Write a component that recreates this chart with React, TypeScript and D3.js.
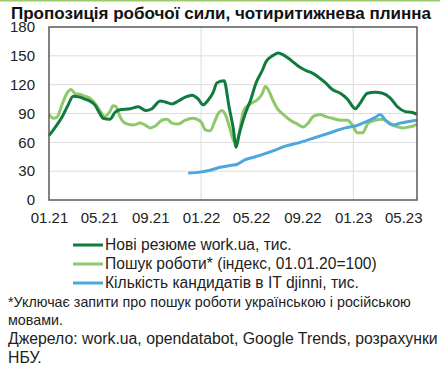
import React, { useEffect, useRef } from "react";
import * as d3 from "d3";

// Нові резюме work.ua, тис.
const resumeDates = [
  "2021-01-01", "2021-01-15", "2021-02-01", "2021-02-16", "2021-02-28", "2021-03-16",
  "2021-03-28", "2021-04-09", "2021-04-21", "2021-05-03", "2021-05-11", "2021-05-27",
  "2021-06-08", "2021-06-20", "2021-07-15", "2021-08-03", "2021-08-22", "2021-09-05",
  "2021-09-25", "2021-10-07", "2021-10-23", "2021-11-07", "2021-11-24", "2021-12-10",
  "2021-12-25", "2022-01-06", "2022-01-18", "2022-01-30", "2022-02-08", "2022-02-25",
  "2022-03-09", "2022-03-19", "2022-03-26", "2022-04-02", "2022-04-17", "2022-04-29",
  "2022-05-13", "2022-05-28", "2022-06-06", "2022-06-21", "2022-07-05", "2022-07-17",
  "2022-08-03", "2022-08-20", "2022-09-08", "2022-09-25", "2022-10-09", "2022-10-26",
  "2022-11-12", "2022-12-01", "2022-12-18", "2023-01-06", "2023-01-18", "2023-02-04",
  "2023-02-23", "2023-03-12", "2023-03-31", "2023-04-17", "2023-05-06", "2023-05-23",
  "2023-06-03",
];
const resumeValues = [
  67, 75, 86, 99, 108, 107, 105, 103, 99, 90, 85, 84,
  91, 94, 95, 97, 93, 95, 103, 102, 100, 103, 107, 109,
  105, 99, 104, 112, 122, 124, 97, 75, 55, 68, 90, 103,
  122, 135, 144, 150, 153, 151, 146, 140, 135, 132, 128, 122,
  115, 111, 105, 95, 101, 111, 112, 111, 106, 97, 92, 91,
  89,
];

// Пошук роботи* (індекс, 01.01.20=100)
const searchDates = [
  "2021-01-01", "2021-01-11", "2021-01-20", "2021-02-01", "2021-02-13", "2021-02-23",
  "2021-03-04", "2021-03-16", "2021-03-28", "2021-04-09", "2021-04-24", "2021-05-03",
  "2021-05-15", "2021-05-27", "2021-06-04", "2021-06-11", "2021-06-20", "2021-07-02",
  "2021-07-22", "2021-08-08", "2021-08-20", "2021-09-01", "2021-09-13", "2021-09-29",
  "2021-10-11", "2021-10-23", "2021-11-07", "2021-11-24", "2021-12-10", "2021-12-22",
  "2022-01-03", "2022-01-11", "2022-01-23", "2022-02-01", "2022-02-11", "2022-02-20",
  "2022-03-02", "2022-03-12", "2022-03-21", "2022-03-28", "2022-04-05", "2022-04-12",
  "2022-04-22", "2022-05-03", "2022-05-15", "2022-05-28", "2022-06-04", "2022-06-11",
  "2022-06-21", "2022-07-03", "2022-07-17", "2022-08-03", "2022-08-20", "2022-09-03",
  "2022-09-15", "2022-09-27", "2022-10-14", "2022-10-26", "2022-11-12", "2022-12-01",
  "2022-12-18", "2022-12-30", "2023-01-11", "2023-01-23", "2023-02-06", "2023-02-23",
  "2023-03-12", "2023-03-26", "2023-04-07", "2023-04-19", "2023-05-01", "2023-05-13",
  "2023-05-25", "2023-06-03",
];
const searchValues = [
  89, 85, 86, 99, 111, 115, 111, 110, 108, 106, 99, 93,
  87, 92, 98, 97, 87, 80, 78, 80, 78, 75, 77, 83,
  84, 80, 79, 83, 85, 84, 80, 73, 72, 80, 90, 93,
  87, 73, 61, 61, 76, 92, 98, 101, 104, 111, 118, 115,
  105, 95, 89, 83, 79, 76, 80, 87, 89, 87, 85, 83,
  83, 78, 70, 70, 80, 83, 84, 81, 78, 76, 75, 76,
  77, 79,
];

// Кількість кандидатів в IT djinni, тис.
const djinniDates = [
  "2021-12-01", "2021-12-30", "2022-01-23", "2022-02-16", "2022-03-12", "2022-03-28",
  "2022-04-17", "2022-05-11", "2022-06-16", "2022-07-22", "2022-08-27", "2022-10-02",
  "2022-11-07", "2022-12-13", "2023-01-06", "2023-01-30", "2023-02-23", "2023-03-07",
  "2023-03-19", "2023-04-07", "2023-04-24", "2023-05-18", "2023-06-03",
];
const djinniValues = [
  28, 29, 31, 34, 36, 37, 42, 45, 50, 56, 60, 65,
  70, 75, 77, 81, 86, 89, 83, 78, 80, 82, 83,
];

const yTicks = [0, 30, 60, 90, 120, 150, 180];
const xTickLabels = ["01.21", "05.21", "09.21", "01.22", "05.22", "09.22", "01.23", "05.23"];
const xGridLabels = ["01.22", "01.23"];

const seriesNames = [
  "Нові резюме work.ua, тис.",
  "Пошук роботи* (індекс, 01.01.20=100)",
  "Кількість кандидатів в IT djinni, тис.",
];
const footnoteLines = [
  "*Уключає запити про пошук роботи українською і російською",
  "мовами.",
];
const sourceLines = [
  "Джерело: work.ua, opendatabot, Google Trends, розрахунки",
  "НБУ.",
];

const colors = ["#117a3f", "#8dc96a", "#4ba8df"];

const parseDate = d3.timeParse("%Y-%m-%d");
const parseLabel = d3.timeParse("%m.%y");

const App: React.FC = () => {
  const svgRef = useRef<SVGSVGElement | null>(null);

  useEffect(() => {
    const svg = d3.select(svgRef.current);
    svg.selectAll("*").remove();

    const width = 440;
    const height = 369;
    const margin = { top: 27, right: 23, bottom: 169, left: 49 };
    const font = "'Liberation Sans', Arial, sans-serif";

    svg
      .append("rect")
      .attr("x", 0)
      .attr("y", 0)
      .attr("width", width)
      .attr("height", height)
      .attr("fill", "#fff");

    svg
      .append("rect")
      .attr("x", 0)
      .attr("y", 0)
      .attr("width", width)
      .attr("height", 1.5)
      .attr("fill", "#9ccc6a");

    const x = d3
      .scaleTime()
      .domain([parseDate("2021-01-01")!, parseDate("2023-06-03")!])
      .range([margin.left, width - margin.right]);

    const y = d3
      .scaleLinear()
      .domain([0, 180])
      .range([height - margin.bottom, margin.top]);

    svg
      .append("text")
      .attr("x", 11)
      .attr("y", 19)
      .attr("font-family", font)
      .attr("font-weight", "bold")
      .attr("font-size", 17)
      .attr("textLength", 420)
      .attr("lengthAdjust", "spacingAndGlyphs")
      .attr("fill", "#111")
      .text("Пропозиція робочої сили, чотиритижнева плинна");

    // gridlines
    const grid = svg.append("g");
    grid
      .selectAll(".hgrid")
      .data(yTicks.slice(1, -1))
      .enter()
      .append("line")
      .attr("x1", margin.left)
      .attr("x2", width - margin.right)
      .attr("y1", (d) => y(d))
      .attr("y2", (d) => y(d))
      .attr("stroke", "#dcdcdc")
      .attr("stroke-width", 1);
    grid
      .selectAll(".vgrid")
      .data(xGridLabels.map((l) => parseLabel(l)!))
      .enter()
      .append("line")
      .attr("x1", (d) => x(d))
      .attr("x2", (d) => x(d))
      .attr("y1", margin.top)
      .attr("y2", height - margin.bottom)
      .attr("stroke", "#dcdcdc")
      .attr("stroke-width", 1);

    // y axis labels
    const yAxis = svg
      .append("g")
      .attr("transform", `translate(${margin.left},0)`)
      .call(d3.axisLeft(y).tickValues(yTicks).tickSize(0).tickPadding(14));
    yAxis.select(".domain").remove();
    yAxis
      .selectAll("text")
      .attr("font-family", font)
      .attr("font-size", 15)
      .attr("fill", "#222");

    // x axis labels
    const xAxis = svg
      .append("g")
      .attr("transform", `translate(0,${height - margin.bottom})`)
      .call(
        d3
          .axisBottom(x)
          .tickValues(xTickLabels.map((l) => parseLabel(l)!))
          .tickFormat((d) => d3.timeFormat("%m.%y")(d as Date))
          .tickSize(0)
          .tickPadding(12)
      );
    xAxis.select(".domain").remove();
    xAxis
      .selectAll("text")
      .attr("font-family", font)
      .attr("font-size", 15)
      .attr("fill", "#222");

    // series
    const series = [
      { dates: resumeDates, values: resumeValues },
      { dates: searchDates, values: searchValues },
      { dates: djinniDates, values: djinniValues },
    ];
    const line = d3
      .line<[Date, number]>()
      .x((d) => x(d[0]))
      .y((d) => y(d[1]))
      .curve(d3.curveMonotoneX);

    [1, 0, 2].forEach((i) => {
      const s = series[i];
      const pts: [Date, number][] = s.dates.map((d, j) => [parseDate(d)!, s.values[j]]);
      svg
        .append("path")
        .datum(pts)
        .attr("fill", "none")
        .attr("stroke", colors[i])
        .attr("stroke-width", 3)
        .attr("stroke-linejoin", "round")
        .attr("d", line);
    });

    // frame
    svg
      .append("rect")
      .attr("x", margin.left)
      .attr("y", margin.top)
      .attr("width", width - margin.right - margin.left)
      .attr("height", height - margin.bottom - margin.top)
      .attr("fill", "none")
      .attr("stroke", "#5a5a5a")
      .attr("stroke-width", 1.5);

    // legend
    const legend = svg
      .selectAll(".legend")
      .data(seriesNames)
      .enter()
      .append("g")
      .attr("transform", (_, i) => `translate(73,${245 + i * 19})`);
    legend
      .append("line")
      .attr("x1", 0)
      .attr("x2", 30)
      .attr("stroke", (_, i) => colors[i])
      .attr("stroke-width", 3);
    legend
      .append("text")
      .attr("x", 32)
      .attr("dy", "0.35em")
      .attr("font-family", font)
      .attr("font-size", 15.6)
      .attr("fill", "#222")
      .text((d) => d);

    // notes
    svg
      .selectAll(".foot")
      .data(footnoteLines)
      .enter()
      .append("text")
      .attr("x", 8)
      .attr("y", (_, i) => 307 + i * 18)
      .attr("font-family", font)
      .attr("font-size", 14.3)
      .attr("fill", "#222")
      .text((d) => d);
    svg
      .selectAll(".src")
      .data(sourceLines)
      .enter()
      .append("text")
      .attr("x", 8)
      .attr("y", (_, i) => 344 + i * 18.5)
      .attr("font-family", font)
      .attr("font-size", 15.8)
      .attr("fill", "#222")
      .text((d) => d);
  }, []);

  return (
    <svg
      ref={svgRef}
      width={440}
      height={369}
      style={{ position: "absolute", left: 0, top: 0, display: "block" }}
    ></svg>
  );
};

export default App;
